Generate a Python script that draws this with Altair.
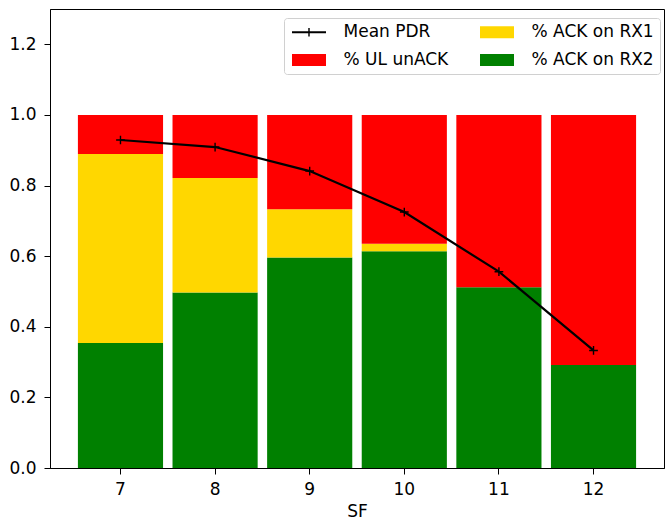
import altair as alt
import pandas as pd

# ---- data ----
sf = [7, 8, 9, 10, 11, 12]
ack_rx2 = [0.354, 0.497, 0.596, 0.614, 0.512, 0.292]
ack_rx1 = [0.535, 0.324, 0.137, 0.021, 0.0, 0.0]
ul_unack = [0.111, 0.179, 0.267, 0.365, 0.488, 0.708]
mean_pdr = [0.929, 0.909, 0.841, 0.725, 0.556, 0.333]

legend_order = ["Mean PDR", "% UL unACK", "% ACK on RX1", "% ACK on RX2"]
legend_colors = ["#000000", "#FF0000", "#FFD700", "#008000"]
y_ticks = [0.0, 0.2, 0.4, 0.6, 0.8, 1.0, 1.2]

# legend glyphs (unit square scaled by sqrt(size)/2)
LINE_GLYPH = "M-1,-0.18H4.667V0.18H-1Z M1.713,-0.72H1.953V0.72H1.713Z"
RECT_GLYPH = "M-1,-1H4.667V1H-1Z"
PLUS = "M-1,0H1M0,-1V1"

segments = [("% ACK on RX2", ack_rx2, 0), ("% ACK on RX1", ack_rx1, 1), ("% UL unACK", ul_unack, 2)]
rows = []
for name, vals, k in segments:
    for s, v in zip(sf, vals):
        rows.append({"SF": s, "series": name, "value": v, "stack": k})
bars_df = pd.DataFrame(rows)
pdr_df = pd.DataFrame({"SF": sf, "pdr": mean_pdr})
leg_df = pd.DataFrame({"series": legend_order})

x_scale = alt.Scale(type="band", paddingInner=0.1, paddingOuter=0.295)
x_axis = alt.Axis(title="SF", labelAngle=0, tickSize=6, labelPadding=7, titlePadding=6)
y_scale = alt.Scale(domain=[0, 1.3], nice=False, zero=True)
y_axis = alt.Axis(title=None, values=y_ticks, format=".1f", tickSize=6, labelPadding=8)

legend = alt.Legend(
    orient="none", legendX=234, legendY=9, columns=2,
    symbolSize=144, symbolStrokeWidth=0, symbolOpacity=1,
    labelOffset=37, columnPadding=29, rowPadding=10, padding=5.5,
    labelFontSize=17, labelFont="DejaVu Sans", labelColor="black",
    strokeColor="#d0d0d0", fillColor="white", cornerRadius=3,
)
color_scale = alt.Scale(domain=legend_order, range=legend_colors)
shape_scale = alt.Scale(domain=legend_order, range=[LINE_GLYPH, RECT_GLYPH, RECT_GLYPH, RECT_GLYPH])

bars = alt.Chart(bars_df).mark_bar(strokeWidth=0).encode(
    x=alt.X("SF:O", scale=x_scale, axis=x_axis),
    y=alt.Y("value:Q", stack="zero", scale=y_scale, axis=y_axis),
    color=alt.Color("series:N", scale=color_scale, legend=legend, title=None),
    order=alt.Order("stack:Q", sort="ascending"),
)

line = alt.Chart(pdr_df).mark_line(color="black", strokeWidth=2.2).encode(
    x=alt.X("SF:O", scale=x_scale, axis=x_axis),
    y=alt.Y("pdr:Q", scale=y_scale, axis=y_axis),
)

pts = alt.Chart(pdr_df).mark_point(
    shape=PLUS, filled=False, color="black", size=76, strokeWidth=1.4, opacity=1
).encode(
    x=alt.X("SF:O", scale=x_scale, axis=x_axis),
    y=alt.Y("pdr:Q", scale=y_scale, axis=y_axis),
)

leg_layer = alt.Chart(leg_df).mark_point(filled=True, opacity=0).encode(
    color=alt.Color("series:N", scale=color_scale, legend=legend, title=None),
    shape=alt.Shape("series:N", scale=shape_scale, legend=legend, title=None),
)

chart = alt.layer(bars, line, pts, leg_layer).properties(
    width=614, height=459,
    padding={"left": 50, "top": 9, "right": 1, "bottom": 51},
    autosize=alt.AutoSizeParams(type="none"),
).configure_view(
    stroke="black", strokeWidth=1
).configure_axis(
    domainColor="black", tickColor="black", labelColor="black", titleColor="black",
    labelFont="DejaVu Sans", titleFont="DejaVu Sans", labelFontSize=17, titleFontSize=17,
    titleFontWeight="normal", grid=False, domainWidth=1, tickWidth=1,
)

chart.save("out.html", embed_options={"renderer": "svg", "actions": False})
